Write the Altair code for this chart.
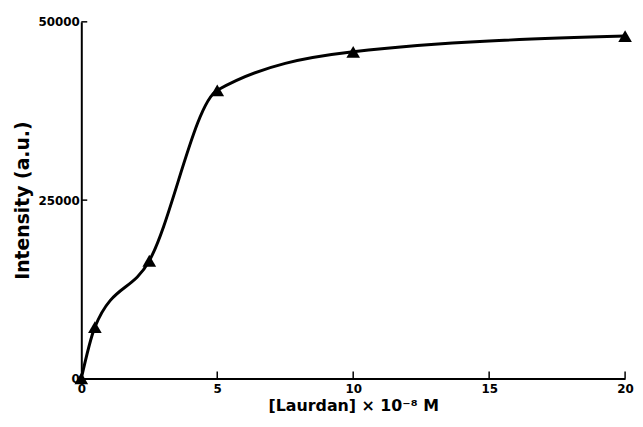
import altair as alt
import pandas as pd

conc = [0, 0.5, 2.5, 5, 10, 20]
intensity = [0, 7200, 16500, 40400, 45800, 48000]
x_ticks = [0, 5, 10, 15, 20]
y_ticks = [0, 25000, 50000]

df = pd.DataFrame({"conc": conc, "intensity": intensity})
tick_df = pd.DataFrame({"t": x_ticks[1:]})
ytick_df = pd.DataFrame({"t": y_ticks[1:]})

FONT = "DejaVu Sans"

x_scale = alt.Scale(domain=[0, 20], nice=False, zero=True)
y_scale = alt.Scale(domain=[0, 50000], nice=False)

x_axis = alt.Axis(values=x_ticks, format="d", title="[Laurdan] × 10⁻⁸ M",
                  tickSize=0, labelPadding=5, domainWidth=2, domainColor="black",
                  labelFont=FONT, labelFontWeight="bold", labelFontSize=12, labelColor="black",
                  titleFont=FONT, titleFontWeight="bold", titleFontSize=16, titleColor="black",
                  titlePadding=3, grid=False, labelFlush=False)
y_axis = alt.Axis(values=y_ticks, format="d", title="Intensity (a.u.)",
                  tickSize=0, labelPadding=2, domainWidth=2, domainColor="black",
                  labelFont=FONT, labelFontWeight="bold", labelFontSize=12, labelColor="black",
                  titleFont=FONT, titleFontWeight="bold", titleFontSize=19, titleColor="black",
                  titlePadding=6, grid=False, labelFlush=False)

base = alt.Chart(df)

line = base.mark_line(color="black", strokeWidth=3, interpolate="monotone").encode(
    x=alt.X("conc:Q", scale=x_scale, axis=x_axis),
    y=alt.Y("intensity:Q", scale=y_scale, axis=y_axis),
)
pts = base.mark_point(shape="triangle-up", filled=True, color="black", size=190, opacity=1).encode(
    x=alt.X("conc:Q", scale=x_scale),
    y=alt.Y("intensity:Q", scale=y_scale),
)
xt = alt.Chart(tick_df).mark_rule(color="black", strokeWidth=1.5).encode(
    x=alt.X("t:Q", scale=x_scale), y=alt.value(360), y2=alt.value(353))
yt = alt.Chart(ytick_df).mark_rule(color="black", strokeWidth=1.5).encode(
    y=alt.Y("t:Q", scale=y_scale), x=alt.value(0), x2=alt.value(6))

chart = alt.layer(line, pts, xt, yt).properties(
    width=549, height=360,
    autosize=alt.AutoSizeParams(type="none"),
    padding={"left": 74, "top": 12, "right": 10, "bottom": 39},
).configure(background="white", view=alt.ViewConfig(stroke=None))

chart.save("out.html", embed_options={"renderer": "svg", "actions": False})
